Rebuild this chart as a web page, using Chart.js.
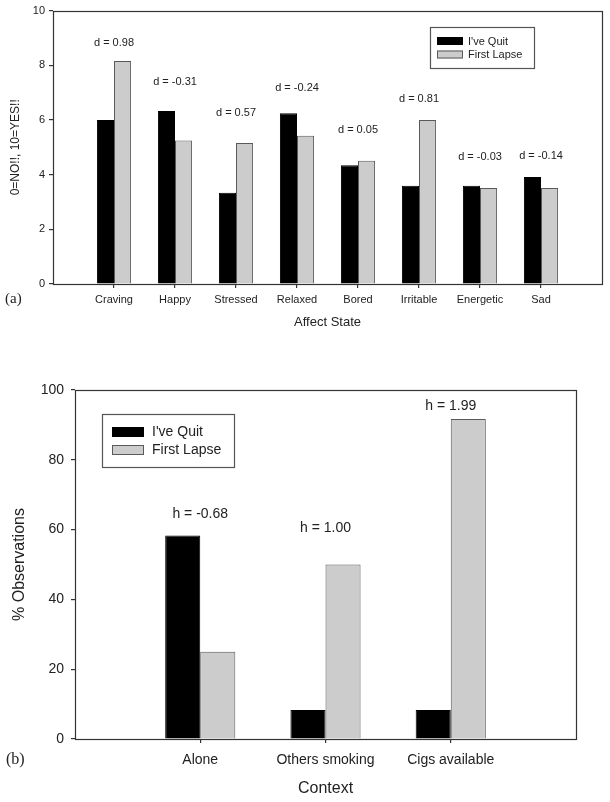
<!DOCTYPE html>
<html><head><meta charset="utf-8">
<script src="https://cdn.jsdelivr.net/npm/chart.js@4/dist/chart.umd.min.js"></script>
<style>
html,body{margin:0;padding:0;background:#fff;width:610px;height:802px;overflow:hidden;}
#wa{position:absolute;left:0;top:0;width:610px;height:340px;}
#wb{position:absolute;left:0;top:369px;width:610px;height:433px;}
</style></head><body>
<div id="wa"><canvas id="ca" width="610" height="340"></canvas></div>
<div id="wb"><canvas id="cb" width="610" height="433"></canvas></div>
<script>
// ---- data ----
const seriesNames = ["I've Quit", "First Lapse"];

const affectStates = ['Craving','Happy','Stressed','Relaxed','Bored','Irritable','Energetic','Sad'];
const affectQuit   = [6.00, 6.33, 3.34, 6.25, 4.34, 3.59, 3.59, 3.91];
const affectLapse  = [8.16, 5.25, 5.16, 5.42, 4.51, 6.00, 3.51, 3.51];
const affectD      = ['d = 0.98','d = -0.31','d = 0.57','d = -0.24','d = 0.05','d = 0.81','d = -0.03','d = -0.14'];
const affectDAt    = [8.82, 7.39, 6.25, 7.17, 5.63, 6.78, 4.66, 4.68];
const affectTicks  = [0, 2, 4, 6, 8, 10];

const contexts     = ['Alone','Others smoking','Cigs available'];
const contextQuit  = [58.3, 8.3, 8.3];
const contextLapse = [25.0, 50.0, 91.7];
const contextH     = ['h = -0.68','h = 1.00','h = 1.99'];
const contextHAt   = [64.3, 60.5, 95.4];
const contextTicks = [0, 20, 40, 60, 80, 100];

// ---- styling / helpers ----
const SANS = '"Liberation Sans", Arial, Helvetica, sans-serif';
const SERIF = '"Liberation Serif", "Times New Roman", serif';
const INK = '#222';
const LINE = '#333';
Chart.defaults.font.family = SANS;
Chart.defaults.color = INK;

const pad = arr => [null, ...arr, null];
const padLabels = arr => ['', ...arr, ''];

const framePlugin = {
  id: 'frame',
  afterDraw(chart) {
    const {ctx, chartArea: a} = chart;
    ctx.save();
    ctx.strokeStyle = LINE;
    ctx.lineWidth = 1.2;
    ctx.strokeRect(Math.round(a.left) + 0.5, Math.round(a.top) + 0.5,
                   Math.round(a.right - a.left), Math.round(a.bottom - a.top));
    ctx.restore();
  }
};

const effectPlugin = {
  id: 'effect',
  afterDatasetsDraw(chart, args, o) {
    const {ctx, scales: {x, y}} = chart;
    ctx.save();
    ctx.font = o.font;
    ctx.fillStyle = INK;
    ctx.textAlign = 'center';
    ctx.textBaseline = 'middle';
    o.texts.forEach((t, i) => {
      ctx.fillText(t, x.getPixelForValue(i + 1), y.getPixelForValue(o.at[i]));
    });
    ctx.restore();
  }
};

const boxLegendPlugin = {
  id: 'boxLegend',
  afterDraw(chart, args, o) {
    const {ctx} = chart;
    ctx.save();
    ctx.strokeStyle = '#555';
    ctx.lineWidth = 1.2;
    ctx.strokeRect(o.box[0] + 0.5, o.box[1] + 0.5, o.box[2], o.box[3]);
    ctx.font = o.font;
    ctx.textAlign = 'left';
    ctx.textBaseline = 'middle';
    chart.data.datasets.forEach((ds, i) => {
      const sy = o.sw[1] + i * o.gap;
      ctx.fillStyle = ds.backgroundColor;
      ctx.fillRect(o.sw[0], sy, o.sw[2], o.sw[3]);
      ctx.strokeStyle = ds.borderColor;
      ctx.lineWidth = 1;
      ctx.strokeRect(o.sw[0] + 0.5, sy + 0.5, o.sw[2] - 1, o.sw[3] - 1);
      ctx.fillStyle = INK;
      ctx.fillText(ds.label, o.textX, sy + o.sw[3] / 2 + 0.5);
    });
    ctx.restore();
  }
};

const panelPlugin = {
  id: 'panel',
  afterDraw(chart, args, o) {
    const {ctx} = chart;
    ctx.save();
    ctx.font = o.font;
    ctx.fillStyle = INK;
    ctx.textAlign = 'left';
    ctx.textBaseline = 'middle';
    ctx.fillText(o.text, o.x, o.y);
    ctx.restore();
  }
};

function makeChart(canvas, cfg) {
  const n = cfg.labels.length + 2;
  return new Chart(canvas, {
    type: 'bar',
    data: {
      labels: padLabels(cfg.labels),
      datasets: [
        {label: seriesNames[0], data: pad(cfg.quit), backgroundColor: '#000000', borderColor: '#000000', borderWidth: 1},
        {label: seriesNames[1], data: pad(cfg.lapse), backgroundColor: '#cccccc', borderColor: '#5a5a5a', borderWidth: 1}
      ]
    },
    options: {
      responsive: false,
      animation: false,
      events: [],
      layout: {padding: cfg.padding},
      datasets: {bar: {categoryPercentage: 0.56, barPercentage: 1.0, borderSkipped: 'bottom'}},
      plugins: {
        legend: {display: false},
        tooltip: {enabled: false},
        effect: {texts: cfg.effects, at: cfg.effectsAt, font: cfg.effectFont},
        boxLegend: cfg.legend,
        panel: cfg.panel
      },
      scales: {
        x: {
          type: 'category',
          offset: false,
          border: {display: false},
          grid: {
            display: true, offset: false, drawOnChartArea: false, drawTicks: true, tickLength: 4, lineWidth: 1.2,
            color: c => (c.index === 0 || c.index === n - 1) ? 'rgba(0,0,0,0)' : LINE
          },
          ticks: {font: {size: cfg.tickSize}, color: INK, padding: cfg.xPad, maxRotation: 0, autoSkip: false},
          title: {display: true, text: cfg.xTitle, font: {size: cfg.xTitleSize}, color: INK, padding: {top: 0, bottom: cfg.xTitlePad}},
          afterFit: s => { s.height = cfg.xHeight; }
        },
        y: {
          min: cfg.ticks[0],
          max: cfg.ticks[cfg.ticks.length - 1],
          border: {display: false},
          grid: {display: true, drawOnChartArea: false, drawTicks: true, tickLength: 4, lineWidth: 1.2, color: LINE},
          afterBuildTicks: s => { s.ticks = cfg.ticks.map(v => ({value: v})); },
          ticks: {font: {size: cfg.tickSize}, color: INK, padding: cfg.yPad},
          title: {display: true, text: cfg.yTitle, font: {size: cfg.yTitleSize}, color: INK, padding: {top: cfg.yTitlePad, bottom: 0}},
          afterFit: s => { s.width = cfg.yWidth; }
        }
      }
    },
    plugins: [framePlugin, effectPlugin, boxLegendPlugin, panelPlugin]
  });
}

makeChart(document.getElementById('ca'), {
  labels: affectStates, quit: affectQuit, lapse: affectLapse,
  effects: affectD, effectsAt: affectDAt, effectFont: '11px ' + SANS,
  ticks: affectTicks,
  padding: {left: 0, right: 8, top: 10, bottom: 0},
  tickSize: 11, xPad: 5, yPad: 4,
  xTitle: 'Affect State', xTitleSize: 13, xTitlePad: 10, xHeight: 56,
  yTitle: '0=NO!!, 10=YES!!', yTitleSize: 12, yTitlePad: 8, yWidth: 53,
  legend: {box: [430, 27, 104, 41], sw: [437, 37, 26, 8], gap: 13.5, textX: 468, font: '11px ' + SANS},
  panel: {text: '(a)', x: 5, y: 299, font: '15px ' + SERIF}
});

makeChart(document.getElementById('cb'), {
  labels: contexts, quit: contextQuit, lapse: contextLapse,
  effects: contextH, effectsAt: contextHAt, effectFont: '14px ' + SANS,
  ticks: contextTicks,
  padding: {left: 0, right: 34, top: 21, bottom: 0},
  tickSize: 14, xPad: 9, yPad: 7,
  xTitle: 'Context', xTitleSize: 16, xTitlePad: 4, xHeight: 63,
  yTitle: '% Observations', yTitleSize: 16, yTitlePad: 10, yWidth: 75,
  legend: {box: [102, 45, 132, 53], sw: [112, 58, 32, 10], gap: 18, textX: 152, font: '14px ' + SANS},
  panel: {text: '(b)', x: 6, y: 391, font: '16px ' + SERIF}
});
</script>
</body></html>
